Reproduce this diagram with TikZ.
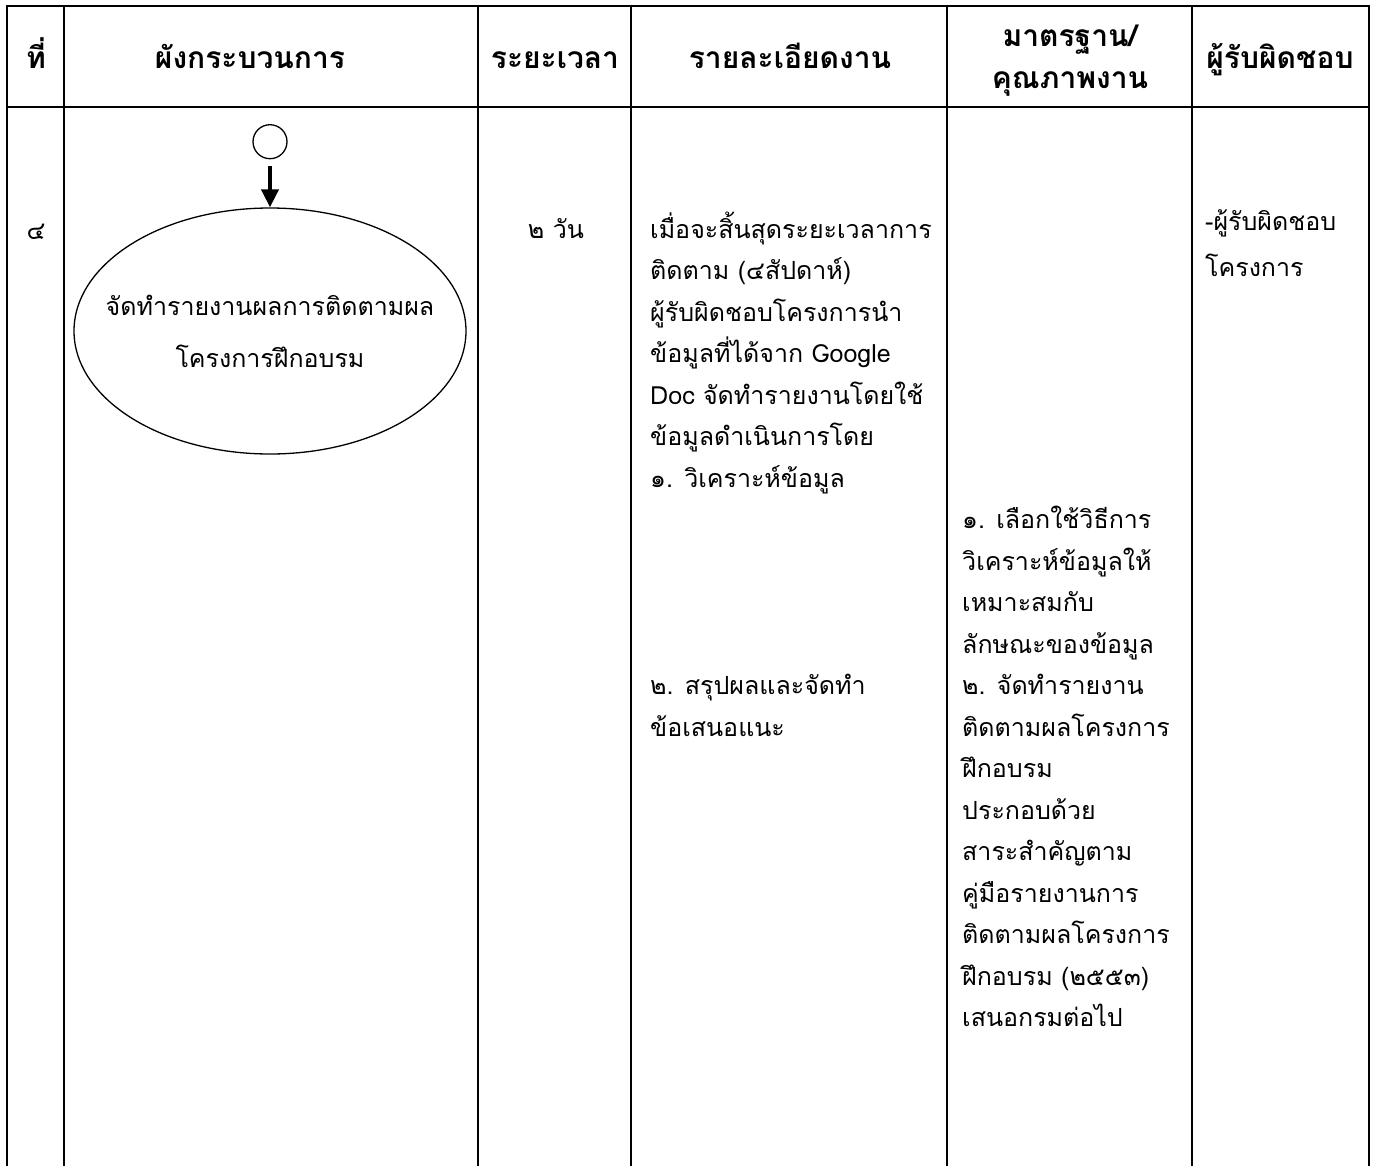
\documentclass[tikz,border=0pt]{standalone}
\usepackage{fontspec}
\setmainfont[Script=Thai]{Loma}
\usetikzlibrary{shapes.geometric,arrows.meta,positioning}
\tikzset{
  gridline/.style={line width=2.5pt},
  hdrtext/.style={font=\fontsize{30}{42}\selectfont\bfseries,inner sep=0pt,anchor=base},
  bodytext/.style={font=\fontsize{25}{41.5}\selectfont,align=left,inner sep=0pt,anchor=base west},
  tasktext/.style={font=\fontsize{25}{52}\selectfont,align=center,inner sep=0pt},
  taskell/.style={ellipse,draw,line width=1.3pt,minimum width=392pt,minimum height=246pt,inner sep=0pt},
  startcirc/.style={circle,draw,line width=1.3pt,minimum size=34pt,inner sep=0pt},
  arrow/.style={-{Triangle[length=18pt,width=17pt]},line width=4pt},
}

\begin{document}
\begin{tikzpicture}[x=1pt,y=-1pt]
  \useasboundingbox (0,0) rectangle (1379,1165);
  % table frame
  \draw[gridline] (7,6) rectangle (1369,107);
  \foreach \x in {7,64,478,631,947,1192,1369}
    \draw[gridline] (\x,6) -- (\x,1166);

  % header row
  \node[hdrtext] (hno)    at (36,68)    {ที่};
  \node[hdrtext] (hflow)  at (250,68)   {ผังกระบวนการ};
  \node[hdrtext] (htime)  at (555,68)   {ระยะเวลา};
  \node[hdrtext] (hdet)   at (790,68)   {รายละเอียดงาน};
  \node[hdrtext] (hstd)   at (1070,46)  {มาตรฐาน/};
  \node[hdrtext] (hstdb)  at (1070,88)  {คุณภาพงาน};
  \node[hdrtext] (hresp)  at (1280,68)  {ผู้รับผิดชอบ};

  % flow chart
  \node[taskell] (task) at (270,331) {};
  \node[tasktext] (tasklbl) at (task.center) {จัดทำรายงานผลการติดตามผล\\โครงการฝึกอบรม};
  \node[startcirc, above=48pt of task] (start) {};
  \draw[arrow, shorten <=7pt] (start) -- (task);

  % row 4 (base anchor = last line)
  \node[bodytext, anchor=base] (stepno) at (36,239) {๔};
  \node[bodytext, anchor=base] (dur) at (556,238) {๒ วัน};
  \node[bodytext] (deta) at (650,487) {เมื่อจะสิ้นสุดระยะเวลาการ\\
    ติดตาม (๔สัปดาห์)\\
    ผู้รับผิดชอบโครงการนำ\\
    ข้อมูลที่ได้จาก Google\\
    Doc จัดทำรายงานโดยใช้\\
    ข้อมูลดำเนินการโดย\\
    ๑. วิเคราะห์ข้อมูล};
  \node[bodytext] (detb) at (650,736) {๒. สรุปผลและจัดทำ\\
    ข้อเสนอแนะ};
  \node[bodytext] (std) at (962,1026.5) {๑. เลือกใช้วิธีการ\\
    วิเคราะห์ข้อมูลให้\\
    เหมาะสมกับ\\
    ลักษณะของข้อมูล\\
    ๒. จัดทำรายงาน\\
    ติดตามผลโครงการ\\
    ฝึกอบรม\\
    ประกอบด้วย\\
    สาระสำคัญตาม\\
    คู่มือรายงานการ\\
    ติดตามผลโครงการ\\
    ฝึกอบรม (๒๕๕๓)\\
    เสนอกรมต่อไป};
  \node[bodytext, font=\fontsize{25}{46}\selectfont] (resp) at (1205,276) {-ผู้รับผิดชอบ\\
    โครงการ};
\end{tikzpicture}
\end{document}
